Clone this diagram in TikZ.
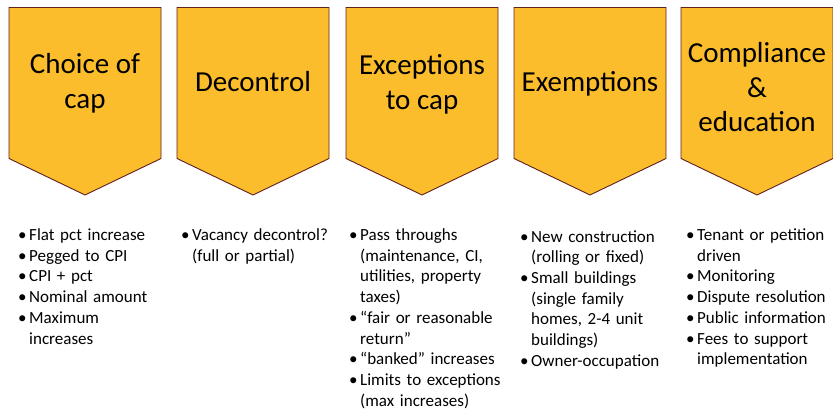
\documentclass[tikz,border=0pt]{standalone}
\usepackage{fontspec}
\setmainfont{Carlito}
\definecolor{chevfill}{RGB}{252,189,44}
\definecolor{chevline}{RGB}{96,32,30}
\newcommand{\bitem}[1]{\hangindent=11pt\hangafter=1\noindent\makebox[11pt][l]{\textbullet}#1\par}
\begin{document}
\begin{tikzpicture}[x=1pt,y=-1pt,
  chev/.style={fill=chevfill,draw=chevline,line width=0.9pt,line join=miter},
  title/.style={font=\fontsize{29}{35}\selectfont,align=center,inner sep=0pt,anchor=base},
  blist/.style={font=\fontsize{17}{20.7}\selectfont,text width=200pt,inner sep=0pt,anchor=base west,execute at begin node=\raggedright}]
\useasboundingbox (0,0) rectangle (833,409);
\foreach \l in {9,177,346,514,681}{
  \draw[chev] (\l,7.5) -- (\l+152,7.5) -- (\l+152,158.5) -- (\l+76,195) -- (\l,158.5) -- cycle;
}
\node[title] (t1) at (85,109) {Choice of\\cap};
\node[title] (t2) at (253,92) {Decontrol};
\node[title] (t3) at (422,110) {Exceptions\\to cap};
\node[title] (t4) at (590,92) {Exemptions};
\node[title] (t5) at (757,132) {Compliance\\\&\\education};
\node[blist] (b1) at (18,240.5) {\bitem{Flat pct increase}\bitem{Pegged to CPI}\bitem{CPI + pct}\bitem{Nominal amount}\bitem{Maximum\newline increases}};
\node[blist] (b2) at (181,240.5) {\bitem{Vacancy decontrol?\newline (full or partial)}};
\node[blist] (b3) at (349,240.5) {\bitem{Pass throughs\newline (maintenance, CI,\newline utilities, property\newline taxes)}\bitem{“fair or reasonable\newline return”}\bitem{“banked” increases}\bitem{Limits to exceptions\newline (max increases)}};
\node[blist] (b4) at (520,242) {\bitem{New construction\newline (rolling or fixed)}\bitem{Small buildings\newline (single family\newline homes, 2-4 unit\newline buildings)}\bitem{Owner-occupation}};
\node[blist] (b5) at (686,240.5) {\bitem{Tenant or petition\newline driven}\bitem{Monitoring}\bitem{Dispute resolution}\bitem{Public information}\bitem{Fees to support\newline implementation}};
\end{tikzpicture}
\end{document}
